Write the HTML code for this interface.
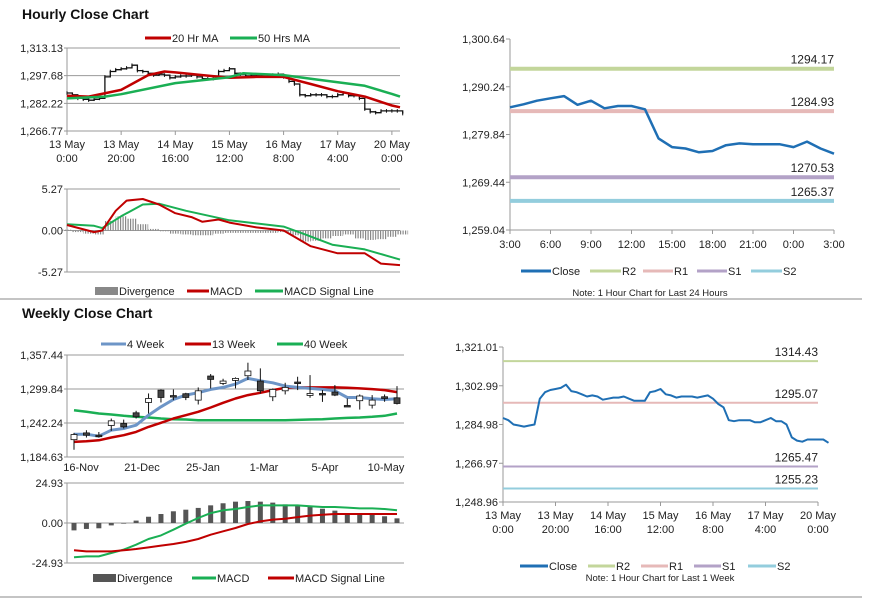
<!DOCTYPE html>
<html><head><meta charset="utf-8"><style>
body{margin:0;background:#fff}
svg{display:block;font-family:"Liberation Sans",sans-serif}
text{fill:#222;font-size:11px}
</style></head><body>
<svg id="s" width="873" height="601">
<defs><pattern id="hatch" width="2.5" height="4" patternUnits="userSpaceOnUse"><rect width="1.2" height="4" fill="#888"/></pattern></defs>
<text x="22" y="19" style="font-size:14px;font-weight:bold;fill:#111">Hourly Close Chart</text>
<text x="22" y="318" style="font-size:14px;font-weight:bold;fill:#111">Weekly Close Chart</text>
<line x1="0" y1="299" x2="862" y2="299" stroke="#888"/>
<line x1="0" y1="597" x2="862" y2="597" stroke="#888"/>
</svg>
<script>
// ---- Hourly (2-hour steps, h = 0..124) ----
const hourlyClose=[1288,1287,1285,1284.5,1284,1284.5,1285,1297,1300,1301,1301.5,1302,1303.5,1300.5,1300,1299,1298,1298.5,1298,1296.5,1297,1297.5,1297.5,1298,1297,1296,1296,1296,1300,1300.5,1301.5,1299,1298.5,1297.5,1298,1298,1298,1297.5,1298,1298.5,1297,1294.5,1293,1287,1286.5,1287,1287,1287,1286,1286,1287,1288,1286.5,1286.5,1285,1279,1277.5,1277,1278,1278,1278,1278,1276.5];
const ma20H=[0,8,20,30,36,40,50,60,70,80,90,100,110,120,123];
const ma20V=[1286.5,1286,1289.7,1298,1300,1299.5,1298,1296.5,1297,1297,1293,1289,1286,1281,1280];
const ma50H=[0,14,20,40,60,65,80,90,100,110,120,123];
const ma50V=[1285,1286,1287.3,1293.5,1296.8,1299,1298,1296,1294,1292,1287.5,1286];
const macdH=[0,10,13,18,22,28,34,40,46,50,56,60,70,80,84,90,100,110,116,123];
const macdV=[0.7,-0.2,0,2.5,3.8,4.0,3.3,2.2,1.7,1.1,1.4,1.0,0.4,0,-0.8,-2.0,-2.9,-2.9,-4.2,-4.4];
const sigH=[0,10,13,20,28,34,44,60,80,88,98,110,123];
const sigV=[0.8,0.6,0.3,1.8,3.3,3.4,2.5,1.3,0.5,-0.5,-1.8,-2.4,-3.7];
const divV=[0.1,-0.2,-0.4,-0.5,1.2,1.8,1.5,0.8,0.2,-0.1,-0.4,-0.5,-0.6,-0.6,-0.4,-0.3,-0.3,-0.3,-0.3,-0.3,-0.2,-0.6,-1.4,-1.3,-1.0,-0.7,-0.5,-1.0,-1.2,-1.1,-0.8,-0.5];
const hourTicks=[["13 May","0:00"],["13 May","20:00"],["14 May","16:00"],["15 May","12:00"],["16 May","8:00"],["17 May","4:00"],["20 May","0:00"]];
// ---- 24h ----
const dayClose=[1285.77,1286.42,1287.2,1287.73,1288.2,1286.3,1287.2,1285.55,1286.05,1286.05,1285.33,1279.0,1277.1,1276.8,1275.96,1276.25,1277.5,1277.9,1277.7,1277.7,1277.7,1277.1,1278.3,1276.8,1275.66];
const dayTicks=["3:00","6:00","9:00","12:00","15:00","18:00","21:00","0:00","3:00"];
const dayLevels=[1294.17,1284.93,1270.53,1265.37];
const weekLevels=[1314.43,1295.07,1265.47,1255.23];
// ---- Weekly ----
const wOpen=[1214,1225.5,1221.6,1238,1241.4,1259.5,1277,1297.9,1288.7,1291.8,1281,1321.8,1309.3,1314.4,1322.3,1313.3,1286.7,1296.8,1311.6,1288.9,1292.3,1294.6,1271.9,1280,1272.5,1286.7,1284.9];
const wClose=[1222.7,1221.5,1220.5,1245.9,1235.7,1252.7,1283.8,1285.5,1288.1,1285.5,1296.8,1316.1,1313.3,1317.8,1330.3,1296.8,1299.1,1302.5,1309.3,1292.3,1291.2,1289.5,1270.8,1288,1281,1283.8,1275.3];
const wHigh=[1225.5,1230,1227,1249.8,1248,1262.9,1292.3,1299.1,1299.1,1293.4,1302.5,1325.2,1317.2,1319.5,1344.4,1334.8,1300.8,1310.4,1320.6,1323.4,1298,1306.5,1283.8,1290.6,1289.5,1290.6,1304.8];
const wLow=[1197,1217.6,1217.6,1228.9,1232.9,1249.8,1258.3,1277,1281,1281,1273.6,1300.8,1306.5,1300.8,1315,1292.3,1279.3,1290.6,1298,1285,1278,1287.8,1270.8,1265,1266.8,1278.2,1273.6];
const w4=[1223.2,1223.2,1219.8,1230,1232.9,1238.5,1255.5,1269.7,1282.1,1289.5,1293.5,1299.1,1302.5,1308.2,1317.8,1313.8,1310.4,1304.8,1302.5,1300.8,1299.1,1296.8,1285.5,1285.5,1283.3,1282.1,1283.3];
const w13=[1210.2,1211.3,1213,1217.6,1221.5,1227.2,1235.7,1242.5,1249.8,1255.5,1261.2,1268.5,1276.5,1283.8,1289.5,1293.4,1298,1301.9,1302.5,1302.5,1302.5,1302.5,1301.9,1300.8,1299.7,1298,1294.6];
const w40=[1263.9,1261.2,1258.3,1256.6,1254.4,1252.7,1251.5,1249.8,1248.7,1248.1,1247,1247,1247,1247,1247,1247,1247,1247,1247.5,1248.1,1248.7,1249.8,1250.9,1251.5,1252.7,1254.4,1258.3];
const wDiv=[-4.6,-3.7,-3.3,-1.5,-0.4,1.5,3.9,5.6,7.3,8.3,9.4,11,12.3,13.3,13.7,13.3,12.7,11.6,10.8,10,8.9,7.7,6.2,5.6,5,4.2,2.9];
const wMacd=[-21.4,-20.8,-20.8,-18.7,-16.6,-13.5,-10,-7.7,-4.2,-0.4,3.1,6.2,7.9,8.7,10,11,11,11,11,10.4,10,10,9.6,9.1,9.1,8.7,7.9];
const wSig=[-17,-17.7,-17.7,-17.7,-17,-16.2,-15.2,-14.1,-13.1,-11.8,-10,-7.3,-5.2,-3.1,-0.6,1,2.1,2.6,3.7,4.6,5.2,5.6,5.6,5.6,5.6,5.6,5.6];
const weekTicks=["16-Nov","21-Dec","25-Jan","1-Mar","5-Apr","10-May"];

const S=document.getElementById('s'),NS='http://www.w3.org/2000/svg';
function el(t,a,txt){const e=document.createElementNS(NS,t);for(const k in a)e.setAttribute(k,a[k]);if(txt!==undefined)e.textContent=txt;S.appendChild(e);return e;}
function lin(d0,d1,r0,r1){return v=>r0+(v-d0)/(d1-d0)*(r1-r0);}
function poly(xs,ys,col,w,name){const p=xs.map((x,i)=>x.toFixed(1)+','+ys[i].toFixed(1)).join(' ');
 const e=el('polyline',{points:p,fill:'none',stroke:col,'stroke-width':w,'stroke-linejoin':'round'});
 
 }
function yaxis(x0,x1,ticks,y,name,fmt){ticks.forEach(t=>{el('line',{x1:x0-3,x2:x1,y1:y(t),y2:y(t),stroke:'#999','stroke-width':1});
 const tx=el('text',{x:x0-4,y:y(t)+4,'text-anchor':'end'},fmt(t));
 
 });}
function legend(items,y){items.forEach(it=>{
 const l=it.box?el('rect',{x:it.x,y:y-4,width:it.w,height:8,fill:it.c}):el('line',{x1:it.x,x2:it.x+it.w,y1:y,y2:y,stroke:it.c,'stroke-width':3});
 
 
 const t=el('text',{x:it.x+it.w+1,y:y+4},it.t);
 
 });}
const f2=v=>v.toLocaleString('en-US',{minimumFractionDigits:2,maximumFractionDigits:2});

// ===== Hourly price =====
{const x=lin(0,123,67,400),y=lin(1266.77,1313.13,131,48);
 yaxis(67,400,[1313.13,1297.68,1282.22,1266.77],y,'hourly-y',f2);
 el('line',{x1:67,x2:67,y1:48,y2:131,stroke:'#999'});
 hourTicks.forEach((t,i)=>{const xx=x(i*20);el('line',{x1:xx,x2:xx,y1:131,y2:135,stroke:'#999'});
  const a=el('text',{x:xx,y:148,'text-anchor':'middle'},t[0]);
  el('text',{x:xx,y:162,'text-anchor':'middle'},t[1]);});
 let pts=[];
 hourlyClose.forEach((v,i)=>{const xx=x(i*2);if(i>0)pts.push(xx.toFixed(1)+','+y(hourlyClose[i-1]).toFixed(1));pts.push(xx.toFixed(1)+','+y(v).toFixed(1));
  const b=el('line',{x1:xx,x2:xx,y1:y(v+1),y2:y(v-1),stroke:'#111','stroke-width':1});
  });
 const pl=el('polyline',{points:pts.join(' '),fill:'none',stroke:'#111','stroke-width':1.3});
 
 poly(ma20H.map(x),ma20V.map(y),'#c00000',2.5,'ma20-line');
 poly(ma50H.map(x),ma50V.map(y),'#1aaf54',2.5,'ma50-line');
 legend([{x:145,w:26,c:'#c00000',t:'20 Hr MA'},{x:230,w:27,c:'#1aaf54',t:'50 Hrs MA'}],38);
 const ym=lin(-5.27,5.27,272,189);
 yaxis(67,400,[5.27,0,-5.27],ym,'hourly-macd-y',v=>v.toFixed(2));
 el('line',{x1:67,x2:67,y1:189,y2:272,stroke:'#999'});
 divV.forEach((v,i)=>{const xx=x(i*4);const r=el('rect',{x:xx-5.4,y:Math.min(ym(v),ym(0)),width:10.8,height:Math.abs(ym(v)-ym(0)),fill:'url(#hatch)'});
  });
 poly(sigH.map(x),sigV.map(ym),'#1aaf54',2,'macd-signal-line');
 poly(macdH.map(x),macdV.map(ym),'#c00000',2,'macd-line');
 legend([{x:95,w:23,c:'#888',t:'Divergence',box:1},{x:187,w:22,c:'#c00000',t:'MACD'},{x:255,w:28,c:'#1aaf54',t:'MACD Signal Line'}],291);
}
// ===== Level charts =====
function levelChart(X0,X1,Y0,Y1,mn,mx,ticks,series,xmax,xticks,levels,lw,labRight,leg,note,noteY,xlabTwo){
 const x=lin(0,xmax,X0,X1),y=lin(mn,mx,Y1,Y0);
 ticks.forEach(t=>{el('line',{x1:X0-4,x2:X0,y1:y(t),y2:y(t),stroke:'#999'});
  const tx=el('text',{x:X0-5,y:y(t)+4,'text-anchor':'end'},f2(t));});
 el('line',{x1:X0,x2:X0,y1:Y0,y2:Y1,stroke:'#999'});el('line',{x1:X0,x2:X1,y1:Y1,y2:Y1,stroke:'#999'});
 const cols=['#c3d69b','#e6b9b8','#b3a2c7','#93cddd'];
 levels.forEach((v,i)=>{const l=el('line',{x1:X0,x2:X1,y1:y(v),y2:y(v),stroke:cols[i],'stroke-width':lw});
  
  const t=el('text',{x:labRight,y:y(v)-5,'text-anchor':'end',style:'font-size:12px'},v.toFixed(2));});
 xticks.forEach((t,i)=>{const xx=X0+i*(X1-X0)*xticks.step/xmax;el('line',{x1:xx,x2:xx,y1:Y1,y2:Y1+4,stroke:'#999'});
  if(xlabTwo){el('text',{x:xx,y:Y1+17,'text-anchor':'middle'},t[0]);el('text',{x:xx,y:Y1+31,'text-anchor':'middle'},t[1]);}
  else el('text',{x:xx,y:Y1+18,'text-anchor':'middle'},t);});
 poly(series.xs.map(x),series.v.map(y),'#1f6fb4',series.w,'close-line');
 legend(leg,note.ly);
 const n=el('text',{x:note.x,y:noteY,'text-anchor':'middle',style:'font-size:9.5px'},note.t);
}
const dt=dayTicks.slice();dt.step=3;
levelChart(510,834,39,230,1259.04,1300.64,[1300.64,1290.24,1279.84,1269.44,1259.04],{xs:dayClose.map((v,i)=>i),v:dayClose,w:2.5},24,dt,dayLevels,4,834,
 [{x:521,w:30,c:'#1f6fb4',t:'Close'},{x:590,w:31,c:'#c3d69b',t:'R2'},{x:643,w:30,c:'#e6b9b8',t:'R1'},{x:697,w:30,c:'#b3a2c7',t:'S1'},{x:751,w:31,c:'#93cddd',t:'S2'}],
 {x:650,t:'Note: 1 Hour Chart for Last 24 Hours',ly:271},296,false);
const ht=hourTicks.slice();ht.step=20;
levelChart(503,818,347,502,1248.96,1321.01,[1321.01,1302.99,1284.98,1266.97,1248.96],{xs:hourlyClose.map((v,i)=>i*2),v:hourlyClose,w:2},120,ht,weekLevels,2,818,
 [{x:520,w:28,c:'#1f6fb4',t:'Close'},{x:588,w:27,c:'#c3d69b',t:'R2'},{x:641,w:27,c:'#e6b9b8',t:'R1'},{x:694,w:27,c:'#b3a2c7',t:'S1'},{x:748,w:28,c:'#93cddd',t:'S2'}],
 {x:660,t:'Note: 1 Hour Chart for Last 1 Week',ly:566},581,true);
// ===== Weekly =====
{const x=lin(0,26,74,397),y=lin(1184.63,1357.44,457,355);
 yaxis(67,404,[1357.44,1299.84,1242.24,1184.63],y,'weekly-y',f2);
 el('line',{x1:67,x2:67,y1:355,y2:457,stroke:'#999'});
 weekTicks.forEach((t,i)=>{const xx=81+i*61;const a=el('text',{x:xx,y:471,'text-anchor':'middle'},t);});
 poly(w40.map((v,i)=>x(i)),w40.map(y),'#1aaf54',2.5,'ma40-week-line');
 poly(w13.map((v,i)=>x(i)),w13.map(y),'#c00000',2.5,'ma13-week-line');
 poly(w4.map((v,i)=>x(i)),w4.map(y),'#6d95c7',3,'ma4-week-line');
 wOpen.forEach((o,i)=>{const c=wClose[i],xx=x(i);
  el('line',{x1:xx,x2:xx,y1:y(wHigh[i]),y2:y(wLow[i]),stroke:'#111'});
  const r=el('rect',{x:xx-3,y:y(Math.max(o,c)),width:6,height:Math.max(1.5,Math.abs(y(o)-y(c))),fill:c>=o?'#fff':'#444',stroke:'#111','stroke-width':0.8});
  });
 legend([{x:101,w:25,c:'#6d95c7',t:'4 Week'},{x:185,w:26,c:'#c00000',t:'13 Week'},{x:277,w:26,c:'#1aaf54',t:'40 Week'}],344);
 const ym=lin(-24.93,24.93,563,483);
 yaxis(67,404,[24.93,0,-24.93],ym,'weekly-macd-y',v=>v.toFixed(2));
 el('line',{x1:67,x2:67,y1:483,y2:563,stroke:'#999'});
 wDiv.forEach((v,i)=>{const r=el('rect',{x:x(i)-2.5,y:Math.min(ym(v),ym(0)),width:5,height:Math.abs(ym(v)-ym(0)),fill:'#555'});
  });
 poly(wMacd.map((v,i)=>x(i)),wMacd.map(ym),'#1aaf54',2,'weekly-macd-line');
 poly(wSig.map((v,i)=>x(i)),wSig.map(ym),'#c00000',2,'weekly-signal-line');
 legend([{x:93,w:23,c:'#555',t:'Divergence',box:1},{x:192,w:24,c:'#1aaf54',t:'MACD'},{x:268,w:26,c:'#c00000',t:'MACD Signal Line'}],578);
}
</script>
</body></html>
